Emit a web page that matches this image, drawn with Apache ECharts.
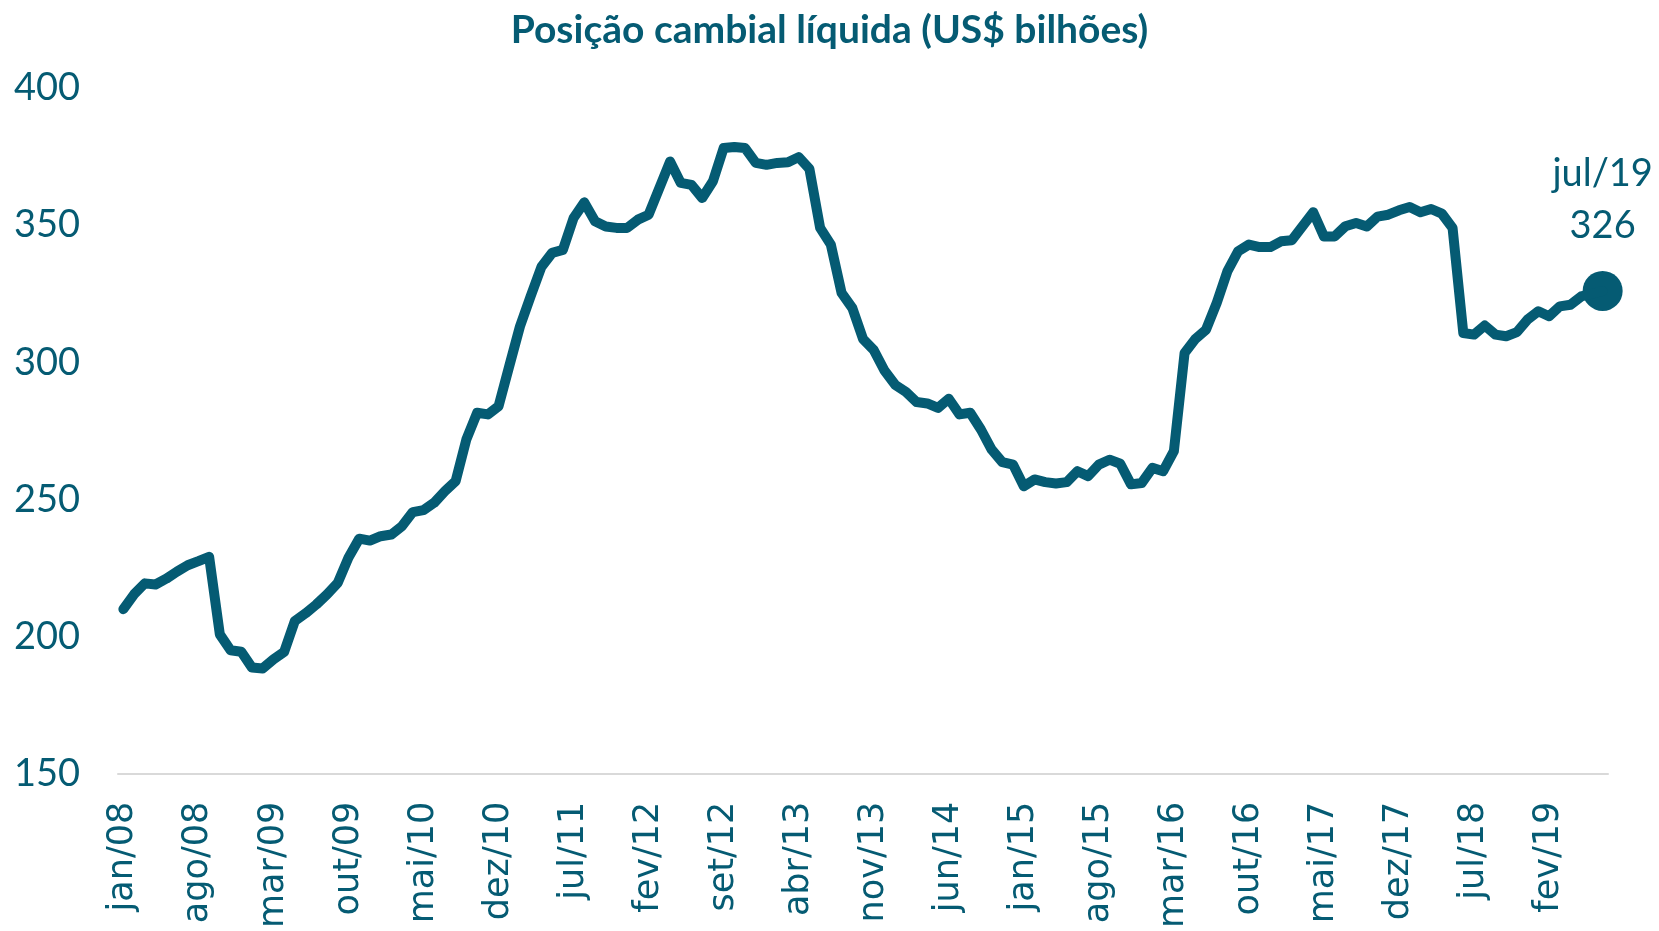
<!DOCTYPE html>
<html>
<head>
<meta charset="utf-8">
<script src="https://cdn.jsdelivr.net/npm/echarts@6/dist/echarts.min.js"></script>
<style>
  html, body { margin: 0; padding: 0; background: #fff; }
  #chart { width: 1659px; height: 931px; }
</style>
</head>
<body>
<div id="chart"></div>
<script>
const monthNames = ['jan', 'fev', 'mar', 'abr', 'mai', 'jun', 'jul', 'ago', 'set', 'out', 'nov', 'dez'];
// monthly categories jan/08 .. jul/19
const months = [];
for (let y = 8; y <= 19; y++) {
    for (let m = 0; m < 12; m++) {
        if (y === 19 && m > 6) break;
        months.push(monthNames[m] + '/' + (y < 10 ? '0' + y : y));
    }
}

// US$ bilhões
const values2008_2009 = [210, 215.4, 219.4, 219, 221.1, 223.7, 226, 227.5, 229.1, 200.8, 195, 194.5,
    188.7, 188.4, 191.7, 194.4, 205.7, 208.5, 211.7, 215.4, 219.6, 228.8, 235.7, 235];
const values2010_2011 = [236.6, 237.2, 240.3, 245.4, 246.1, 248.8, 253, 256.7, 271.9, 281.6, 281, 284,
    298.6, 313.1, 324.1, 334.8, 339.9, 341, 352.6, 358.3, 351.4, 349.5, 349, 349];
const values2012_2013 = [352, 353.8, 363.5, 373.2, 365.4, 364.7, 359.9, 366, 378.1, 378.5, 378.1, 372.7,
    372, 372.7, 372.9, 374.8, 370.5, 349, 342.9, 325.3, 319.8, 308.5, 304.5, 297];
const values2014_2015 = [291.8, 289.2, 285.5, 285, 283.4, 286.7, 281, 281.6, 275.5, 268.2, 263.6, 262.7,
    254.8, 257.3, 256.3, 255.8, 256.3, 260.3, 258.5, 262.7, 264.5, 263, 255.5, 256];
const values2016_2017 = [261.5, 260.3, 267.6, 303.4, 308.5, 311.9, 321.7, 333.2, 340.5, 342.9, 342, 342,
    344.1, 344.5, 349.6, 354.7, 345.9, 345.9, 349.6, 350.8, 349.5, 353.1, 353.8, 355.4];
const values2018_2019 = [356.6, 354.7, 355.9, 354.2, 349, 310.7, 310.1, 313.4, 310.1, 309.5, 311, 315.6,
    318.6, 316.8, 320.4, 321, 324, 325, 326];

const values = [].concat(values2008_2009, values2010_2011, values2012_2013,
    values2014_2015, values2016_2017, values2018_2019);

const yTicks = [150, 200, 250, 300, 350, 400];

const lastIndex = values.length - 1;
const lastLabel = months[lastIndex] + '\n' + Math.round(values[lastIndex]);

const teal = '#055b73';

const chart = echarts.init(document.getElementById('chart'));
chart.setOption({
    animation: false,
    title: {
        text: 'Posição cambial líquida (US$ bilhões)',
        left: 'center',
        top: 6,
        textStyle: {
            fontFamily: 'Lato',
            fontWeight: 'bold',
            fontSize: 39,
            color: teal,
        },
    },
    grid: {
        left: 118,
        right: 51,
        top: 88,
        bottom: 156,
    },
    xAxis: {
        type: 'category',
        data: months,
        boundaryGap: true,
        axisLine: { lineStyle: { color: '#d9d9d9', width: 2 } },
        axisTick: { show: false },
        axisLabel: {
            interval: 6,
            rotate: 90,
            margin: 28,
            fontFamily: 'DejaVu Sans',
            fontSize: 35,
            color: teal,
        },
    },
    yAxis: {
        type: 'value',
        min: yTicks[0],
        max: yTicks[yTicks.length - 1],
        interval: 50,
        axisLine: { show: false },
        axisTick: { show: false },
        splitLine: { show: false },
        axisLabel: {
            margin: 38,
            fontFamily: 'Lato',
            fontSize: 38,
            color: teal,
        },
    },
    series: [
        {
            type: 'line',
            data: values,
            showSymbol: false,
            lineStyle: { color: teal, width: 10, cap: 'round', join: 'round' },
        },
        {
            type: 'scatter',
            data: [[lastIndex, values[lastIndex]]],
            symbol: 'circle',
            symbolSize: 40,
            itemStyle: { color: teal, opacity: 1 },
            label: {
                show: true,
                position: 'top',
                distance: 19,
                formatter: lastLabel,
                fontFamily: 'Lato',
                fontSize: 38,
                lineHeight: 52,
                color: teal,
            },
        },
    ],
});
</script>
</body>
</html>
